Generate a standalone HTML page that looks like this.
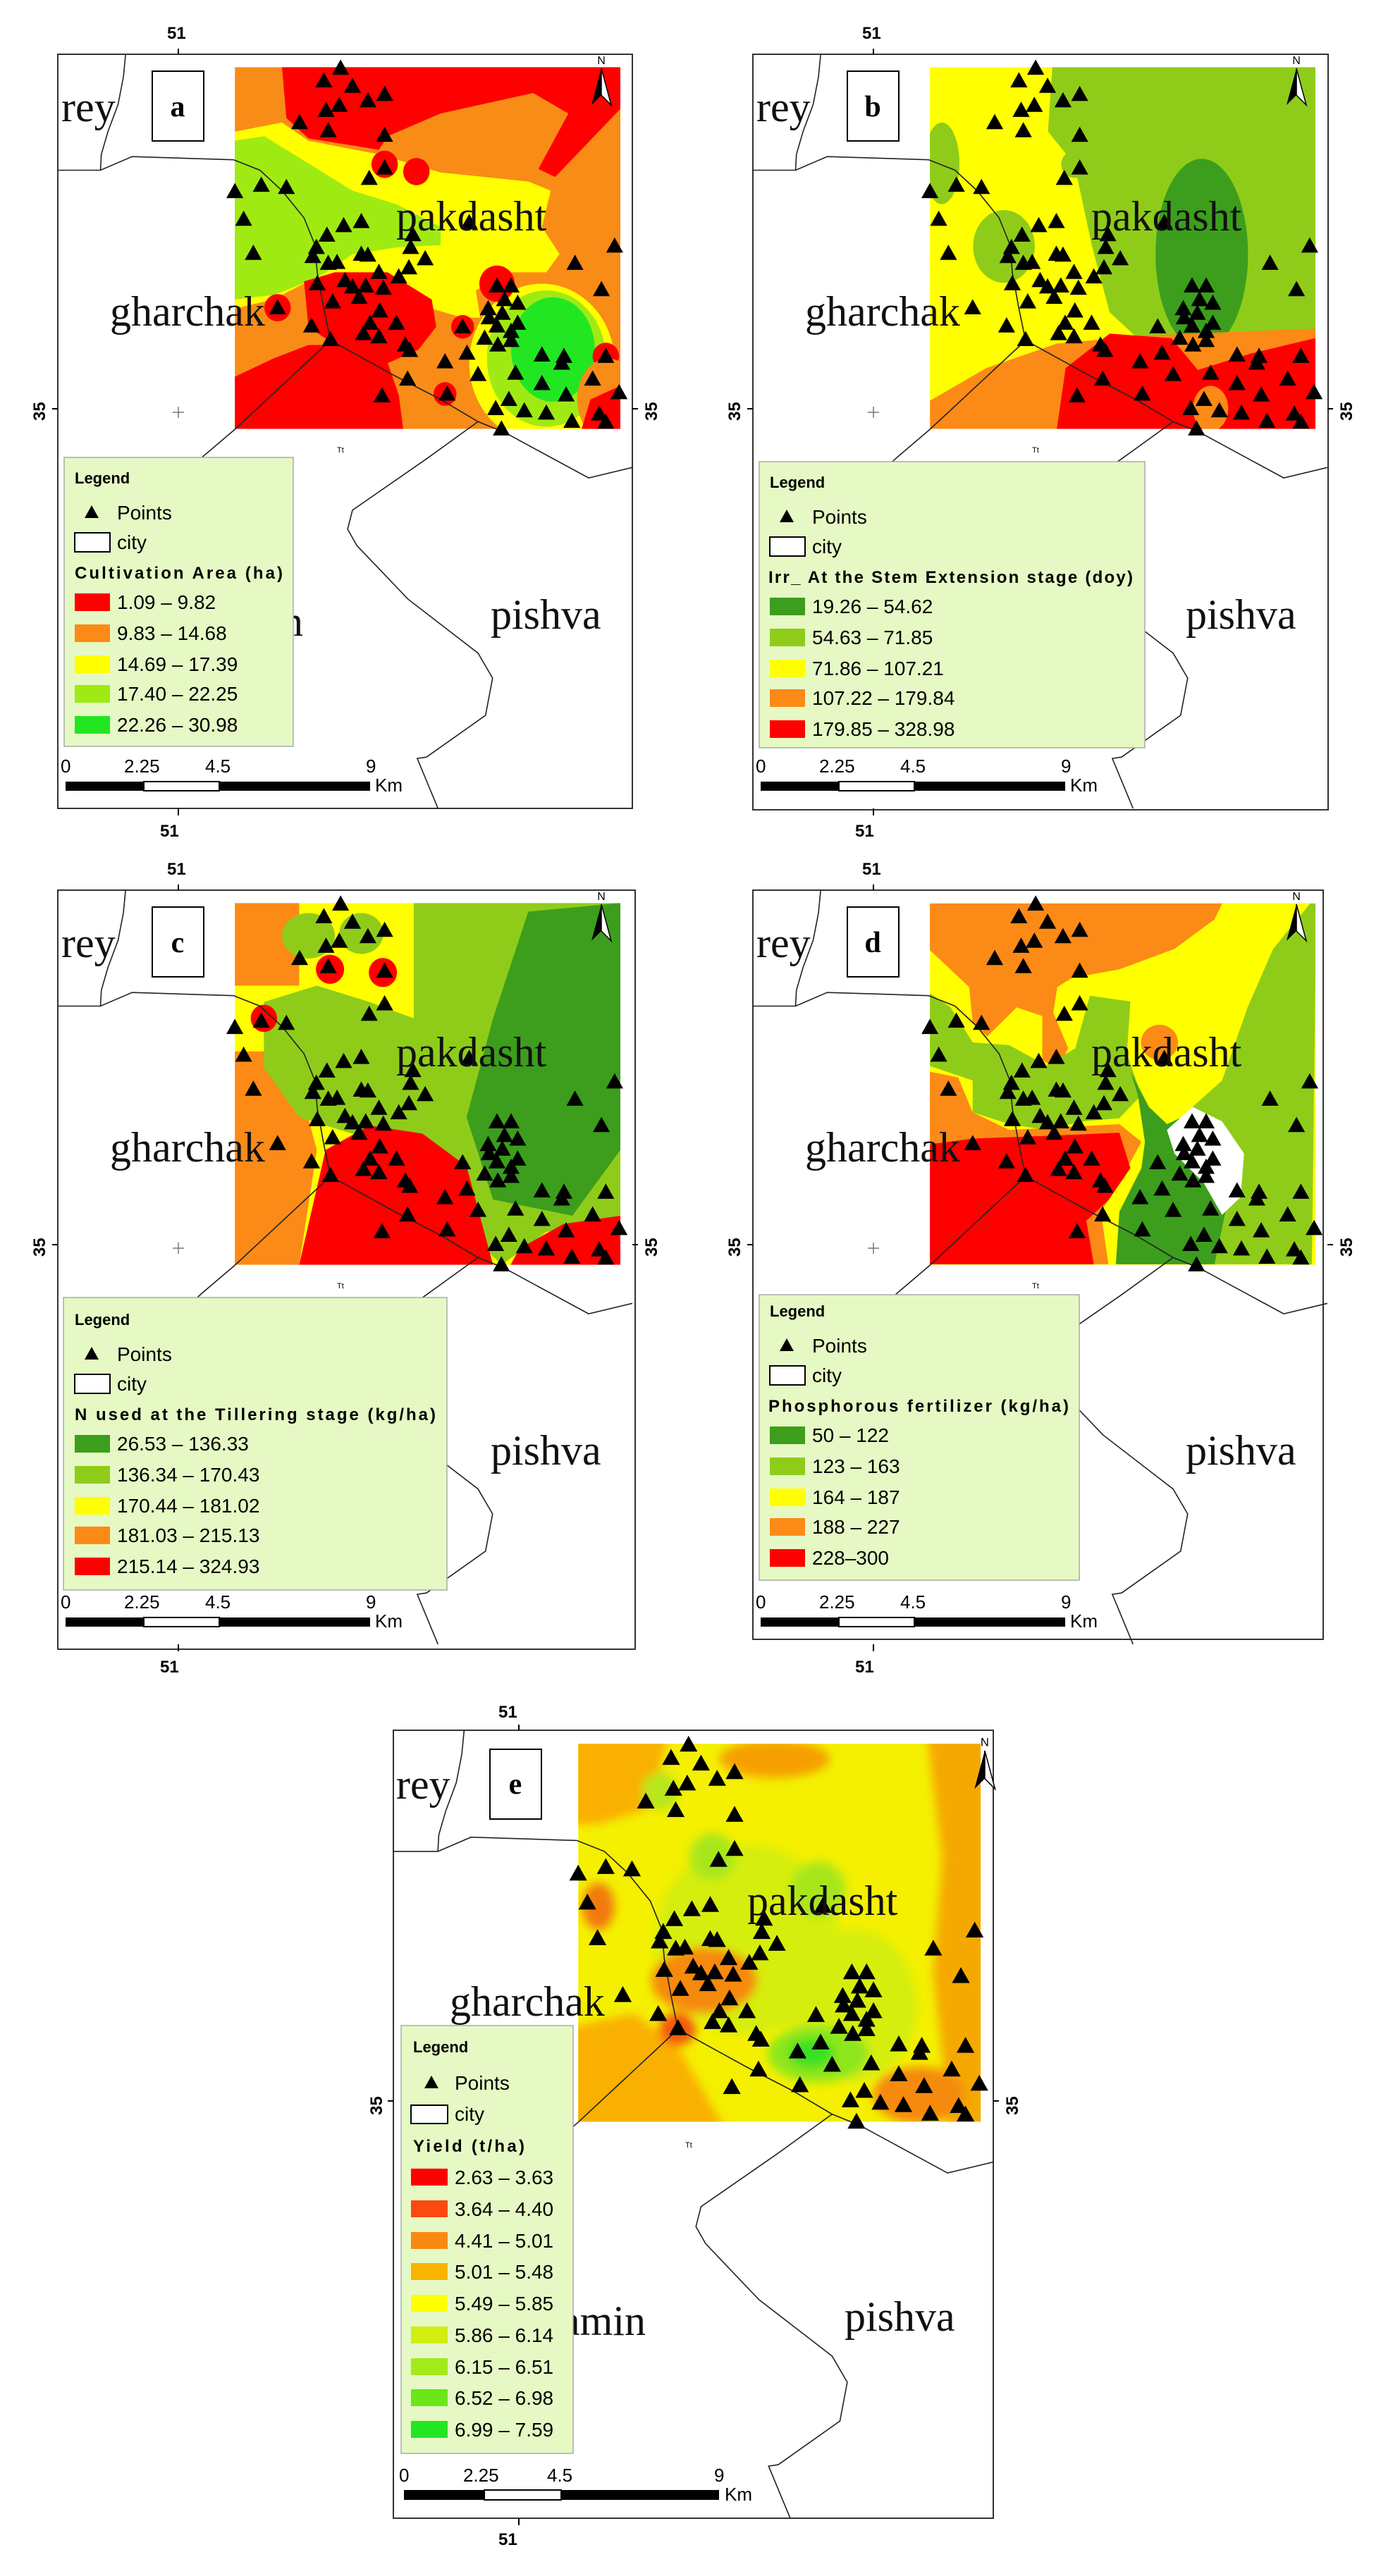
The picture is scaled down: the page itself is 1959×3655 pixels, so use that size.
<!DOCTYPE html>
<html><head><meta charset="utf-8"><style>
html,body{margin:0;padding:0;background:#fff}
svg{display:block}
.cn{font-family:"Liberation Serif",serif;font-size:60px;fill:#111}
.lb{font-family:"Liberation Serif",serif;font-size:42px;font-weight:bold}
.ax{font-family:"Liberation Sans",sans-serif;font-size:24px;font-weight:bold}
.lg{font-family:"Liberation Sans",sans-serif;font-size:22px;font-weight:bold}
.lt{font-family:"Liberation Sans",sans-serif;font-size:24px;font-weight:bold}
.li{font-family:"Liberation Sans",sans-serif;font-size:28px}
.sc{font-family:"Liberation Sans",sans-serif;font-size:26px}
</style></head><body>
<svg xmlns="http://www.w3.org/2000/svg" xmlns:xlink="http://www.w3.org/1999/xlink" width="1959" height="3655" viewBox="0 0 1959 3655">
<defs>
<clipPath id="rc"><rect x="533" y="148" width="875" height="797"/></clipPath>
<filter id="bl" x="-5%" y="-5%" width="110%" height="110%"><feGaussianBlur stdDeviation="10"/></filter>
<path id="pts" fill="#000" stroke="#000" stroke-width="5" stroke-linejoin="miter" d="M773 136l15 26h-30zM735 164l15 26h-30zM800 176l15 26h-30zM873 194l15 26h-30zM835 208l15 26h-30zM770 218l15 26h-30zM740 229l15 26h-30zM680 256l15 26h-30zM745 274l15 26h-30zM873 284l15 26h-30zM873 356l15 26h-30zM838 379l15 26h-30zM533 408l15 26h-30zM593 394l15 26h-30zM650 399l15 26h-30zM553 469l15 26h-30zM820 474l15 26h-30zM780 483l15 26h-30zM742 504l15 26h-30zM718 531l15 26h-30zM710 551l15 26h-30zM575 544l15 26h-30zM937 503l15 26h-30zM932 531l15 26h-30zM965 556l15 26h-30zM820 546l15 26h-30zM835 548l15 26h-30zM745 566l15 26h-30zM765 564l15 26h-30zM720 611l15 26h-30zM783 604l15 26h-30zM800 618l15 26h-30zM830 616l15 26h-30zM860 586l15 26h-30zM870 621l15 26h-30zM905 596l15 26h-30zM928 576l15 26h-30zM630 664l15 26h-30zM755 651l15 26h-30zM815 641l15 26h-30zM862 671l15 26h-30zM840 698l15 26h-30zM900 698l15 26h-30zM825 721l15 26h-30zM860 728l15 26h-30zM707 704l15 26h-30zM750 734l15 26h-30zM920 746l15 26h-30zM930 758l15 26h-30zM1010 783l15 26h-30zM1060 764l15 26h-30zM1085 811l15 26h-30zM925 821l15 26h-30zM867 858l15 26h-30zM1015 854l15 26h-30zM1128 616l15 26h-30zM1160 616l15 26h-30zM1145 646l15 26h-30zM1175 654l15 26h-30zM1108 666l15 26h-30zM1140 676l15 26h-30zM1110 686l15 26h-30zM1175 698l15 26h-30zM1128 704l15 26h-30zM1160 716l15 26h-30zM1100 731l15 26h-30zM1130 746l15 26h-30zM1160 736l15 26h-30zM1050 706l15 26h-30zM1230 768l15 26h-30zM1280 771l15 26h-30zM1275 786l15 26h-30zM1170 808l15 26h-30zM1230 831l15 26h-30zM1345 821l15 26h-30zM1375 771l15 26h-30zM1285 856l15 26h-30zM1155 866l15 26h-30zM1125 886l15 26h-30zM1190 891l15 26h-30zM1240 896l15 26h-30zM1298 914l15 26h-30zM1360 898l15 26h-30zM1375 916l15 26h-30zM1405 851l15 26h-30zM1138 931l15 26h-30zM1305 566l15 26h-30zM1365 624l15 26h-30zM1395 528l15 26h-30zM1065 476l15 26h-30z"/>
<g id="bnd" fill="none" stroke="#222" stroke-width="1.6">
<path vector-effect="non-scaling-stroke" d="M285 120L280 170L268 230L245 290L230 340L228 375"/>
<path vector-effect="non-scaling-stroke" d="M131 375L228 375L300 345L530 352L590 375L640 420L690 480L715 540L720 600L735 680L750 750L900 830L1000 880L1085 929L1144 952L1336 1053L1435 1030"/>
<path vector-effect="non-scaling-stroke" d="M750 750L533 946L458 1008L400 1060"/>
<path vector-effect="non-scaling-stroke" d="M1085 929L968 1011L800 1124L789 1166L810 1202L926 1320L1085 1439L1118 1494L1102 1576L968 1668L947 1671L994 1781"/>
</g>
<g id="rA" clip-path="url(#rc)">
<rect x="533" y="148" width="875" height="797" fill="#f98c17"/>
<polygon fill="#ff0000" points="640,148 1408,148 1408,240 1260,390 1222,372 1290,250 1210,205 1000,250 880,300 860,330 700,305 650,260"/>
<polygon fill="#ffff00" points="533,290 640,270 700,310 860,340 1000,380 1200,400 1250,420 1230,500 1270,560 1240,600 1150,600 1080,640 1090,700 1050,700 980,680 880,600 760,600 700,620 620,660 533,680"/>
<polygon fill="#a0ea14" points="533,310 600,300 700,360 800,420 900,450 1000,500 1000,540 900,545 800,560 740,600 700,620 620,650 533,660"/>
<polygon fill="#ff0000" points="690,620 760,600 880,600 980,660 990,720 950,770 880,800 760,760 700,720"/>
<polygon fill="#ff0000" points="533,830 620,790 700,760 780,760 880,800 905,870 915,945 533,945"/>
<ellipse cx="1230" cy="800" rx="165" ry="175" fill="#ffff00"/>
<ellipse cx="1240" cy="790" rx="135" ry="150" fill="#a0ea14"/>
<ellipse cx="1255" cy="770" rx="95" ry="115" fill="#22e622"/>
<circle cx="630" cy="678" r="30" fill="#ff0000"/><circle cx="873" cy="362" r="30" fill="#ff0000"/><circle cx="945" cy="378" r="30" fill="#ff0000"/><circle cx="1128" cy="625" r="40" fill="#ff0000"/><circle cx="1050" cy="720" r="26" fill="#ff0000"/><circle cx="1010" cy="868" r="26" fill="#ff0000"/><circle cx="1375" cy="785" r="30" fill="#ff0000"/>
<ellipse cx="1380" cy="880" rx="70" ry="90" fill="#f98c17"/>
<polygon fill="#ff0000" points="1340,880 1408,850 1408,945 1320,945"/>
</g>
<g id="rB" clip-path="url(#rc)">
<rect x="533" y="148" width="875" height="797" fill="#ffff00"/>
<polygon fill="#8fcc1a" points="811,148 1408,148 1408,724 1021,760 941,688 901,543 861,362 801,290"/>
<ellipse cx="1150" cy="560" rx="105" ry="210" fill="#3c9e1c"/>
<polygon fill="#fc8a17" points="533,945 533,883 661,811 821,757 1021,739 1408,724 1408,945"/>
<polygon fill="#ff0000" points="821,945 841,811 941,735 1081,745 1141,815 1261,779 1408,745 1408,945"/>
<ellipse cx="1170" cy="900" rx="40" ry="50" fill="#fc8a17"/>
<ellipse cx="560" cy="360" rx="40" ry="90" fill="#8fcc1a"/><ellipse cx="701" cy="543" rx="70" ry="80" fill="#8fcc1a"/><circle cx="861" cy="362" r="30" fill="#8fcc1a"/><circle cx="931" cy="362" r="30" fill="#8fcc1a"/>
</g>
<g id="rC" clip-path="url(#rc)">
<rect x="533" y="148" width="875" height="797" fill="#ffff00"/>
<rect x="533" y="148" width="146" height="182" fill="#fc8a17"/>
<polygon fill="#fc8a17" points="533,475 659,475 719,692 679,945 533,945"/>
<polygon fill="#8fcc1a" points="939,148 1408,148 1408,837 1239,873 1139,945 1039,855 959,656 939,402"/>
<polygon fill="#3c9e1c" points="1199,167 1408,148 1408,692 1299,837 1119,801 1059,620 1119,402"/>
<polygon fill="#8fcc1a" points="599,366 719,330 839,366 939,402 999,620 939,692 799,656 679,620 599,511"/>
<polygon fill="#ff0000" points="679,945 739,692 839,638 959,656 1059,728 1119,945"/>
<polygon fill="#ff0000" points="1179,909 1279,855 1408,837 1408,945 1159,945"/>
<ellipse cx="700" cy="220" rx="60" ry="50" fill="#8fcc1a"/><ellipse cx="820" cy="215" rx="50" ry="45" fill="#8fcc1a"/>
<circle cx="749" cy="294" r="32" fill="#ff0000"/><circle cx="869" cy="301" r="32" fill="#ff0000"/><circle cx="599" cy="402" r="30" fill="#ff0000"/>
</g>
<g id="rD" clip-path="url(#rc)">
<rect x="533" y="148" width="875" height="797" fill="#ffff00"/>
<polygon fill="#fc8a17" points="530,149 1196,149 1179,184 1088,249 963,294 855,313 822,333 813,390 847,468 822,513 788,494 788,397 730,378 663,442 630,410 622,333 530,249"/>
<polygon fill="#8fcc1a" points="1396,149 1410,149 1400,944 1179,944 1204,828 1171,732 1129,597 1196,539 1254,378 1312,249"/>
<polygon fill="#8fcc1a" points="530,345 580,378 630,455 713,461 797,506 863,468 896,352 988,365 980,481 1013,571 963,622 880,629 797,648 713,635 630,609 630,539 530,506"/>
<polygon fill="#fc8a17" points="530,519 597,532 630,609 713,648 963,635 1013,674 963,764 921,828 938,944 530,944"/>
<polygon fill="#ff0000" points="530,680 630,667 797,661 963,654 988,732 938,803 888,848 905,944 530,944"/>
<polygon fill="#3c9e1c" points="988,519 1030,597 1071,635 1129,609 1179,732 1204,828 1179,944 955,944 963,828 1013,732 1021,674 1005,571"/>
<polygon fill="#ffffff" points="1071,648 1129,597 1196,629 1246,700 1238,796 1196,835 1154,764 1088,700"/>
<ellipse cx="1054" cy="455" rx="42" ry="39" fill="#fc8a17"/>
</g>
<g id="rE" clip-path="url(#rc)">
<rect x="533" y="148" width="875" height="797" fill="#f4f000"/>
<g filter="url(#bl)">
<ellipse cx="900" cy="560" rx="200" ry="200" fill="#d6ee10"/>
<ellipse cx="1130" cy="700" rx="140" ry="160" fill="#d6ee10"/>
<polygon fill="#f9b000" points="500,120 730,120 692,283 577,318 500,318"/>
<polygon fill="#f5a800" points="1290,120 1440,120 1440,980 1343,980 1305,630 1324,387"/>
<polygon fill="#f9b000" points="500,750 653,716 749,785 864,980 500,980"/>
<ellipse cx="807" cy="647" rx="115" ry="70" fill="#f58a10"/>
<ellipse cx="749" cy="750" rx="40" ry="35" fill="#f25a10"/>
<ellipse cx="577" cy="491" rx="35" ry="50" fill="#f27a10"/>
<ellipse cx="1274" cy="889" rx="100" ry="60" fill="#f58a10"/>
<ellipse cx="960" cy="180" rx="120" ry="40" fill="#f5a000"/>
<ellipse cx="1055" cy="802" rx="110" ry="60" fill="#8ee61a"/>
<ellipse cx="1040" cy="800" rx="50" ry="32" fill="#3ae020"/>
<ellipse cx="825" cy="387" rx="50" ry="50" fill="#a8e61a"/>
<ellipse cx="1055" cy="456" rx="60" ry="60" fill="#a8e61a"/>
<ellipse cx="711" cy="248" rx="40" ry="40" fill="#b8e61a"/>
</g>
</g>
<g id="narrow"><text x="771" y="14" font-family="Liberation Sans,sans-serif" font-size="16" text-anchor="middle">N</text><polygon points="771,20 757,72 771,58" fill="#000"/><polygon points="771,20 785,72 771,58" fill="#fff" stroke="#000" stroke-width="1.5"/></g>
<g id="axes">
<text class="ax" x="155" y="-22">51</text><line x1="171" y1="-8" x2="171" y2="0" stroke="#000" stroke-width="2"/>
<text class="ax" x="145" y="1110">51</text><line x1="171" y1="1070" x2="171" y2="1080" stroke="#000" stroke-width="2"/>
<line x1="-8" y1="503" x2="0" y2="503" stroke="#000" stroke-width="2"/><line x1="815" y1="503" x2="823" y2="503" stroke="#000" stroke-width="2"/>
<text class="ax" transform="translate(-18,520) rotate(-90)">35</text>
<text class="ax" transform="translate(850,520) rotate(-90)">35</text>
<text x="396" y="565" font-family="Liberation Sans,sans-serif" font-size="11">Tt</text>
<line x1="171" y1="500" x2="171" y2="516" stroke="#777" stroke-width="1.5"/><line x1="163" y1="508" x2="179" y2="508" stroke="#777" stroke-width="1.5"/>
</g>
<g id="scale">
<rect x="11" y="1032" width="111" height="13" fill="#000"/><rect x="122" y="1032" width="107" height="13" fill="#fff" stroke="#000" stroke-width="2"/><rect x="229" y="1032" width="214" height="13" fill="#000"/>
<text class="sc" x="4" y="1019">0</text><text class="sc" x="94" y="1019">2.25</text><text class="sc" x="209" y="1019">4.5</text><text class="sc" x="437" y="1019">9</text><text class="sc" x="450" y="1046">Km</text>
</g>
<g id="lghead">
<text class="lg" x="24" y="609">Legend</text>
<polygon points="48,640 58,658 38,658" fill="#000"/><text class="li" x="84" y="660" font-size="26">Points</text>
<rect x="24" y="679" width="50" height="27" fill="#fff" stroke="#000" stroke-width="2"/><text class="li" x="84" y="702" font-size="26">city</text>
</g>
</defs>

<!-- Panel a -->
<g transform="translate(82,77)">
<rect x="0" y="0" width="815" height="1070" fill="#fff" stroke="#333" stroke-width="2"/>
<g transform="translate(-82,-77) scale(0.625,0.644)"><use xlink:href="#rA"/><use xlink:href="#bnd"/><use xlink:href="#pts"/></g>
<use xlink:href="#axes"/>
<text class="cn" x="5" y="95">rey</text>
<text class="cn" x="74" y="385">gharchak</text>
<text class="cn" x="480" y="250">pakdasht</text>
<text class="cn" x="614" y="815">pishva</text>
<text class="cn" x="348" y="825" text-anchor="end">amin</text>
<rect x="134" y="24" width="73" height="99" fill="#fff" stroke="#000" stroke-width="2"/><text class="lb" x="170" y="88" text-anchor="middle">a</text>
<use xlink:href="#narrow"/>
<rect x="9" y="572" width="325" height="410" fill="#e6f9c4" stroke="#aaa" stroke-width="1.5"/>
<use xlink:href="#lghead"/>
<text class="lt" x="24" y="744" textLength="295">Cultivation Area (ha)</text>
<rect x="24" y="765" width="50" height="25" fill="#ff0000"/><text class="li" x="84" y="787">1.09 – 9.82</text>
<rect x="24" y="809" width="50" height="25" fill="#fc8a17"/><text class="li" x="84" y="831">9.83 – 14.68</text>
<rect x="24" y="853" width="50" height="25" fill="#ffff00"/><text class="li" x="84" y="875">14.69 – 17.39</text>
<rect x="24" y="895" width="50" height="25" fill="#a0ea14"/><text class="li" x="84" y="917">17.40 – 22.25</text>
<rect x="24" y="939" width="50" height="25" fill="#22e622"/><text class="li" x="84" y="961">22.26 – 30.98</text>
<use xlink:href="#scale"/>
</g>

<!-- Panel b -->
<g transform="translate(1068,77)">
<rect x="0" y="0" width="816" height="1072" fill="#fff" stroke="#333" stroke-width="2"/>
<g transform="translate(-82,-77) scale(0.625,0.644)"><use xlink:href="#rB"/><use xlink:href="#bnd"/><use xlink:href="#pts"/></g>
<use xlink:href="#axes"/>
<text class="cn" x="5" y="95">rey</text>
<text class="cn" x="74" y="385">gharchak</text>
<text class="cn" x="480" y="250">pakdasht</text>
<text class="cn" x="614" y="815">pishva</text>
<rect x="134" y="24" width="73" height="99" fill="#fff" stroke="#000" stroke-width="2"/><text class="lb" x="170" y="88" text-anchor="middle">b</text>
<use xlink:href="#narrow"/>
<rect x="9" y="578" width="547" height="406" fill="#e6f9c4" stroke="#aaa" stroke-width="1.5"/>
<g transform="translate(0,6)">
<use xlink:href="#lghead"/>
<text class="lt" x="22" y="744" textLength="517">Irr_ At the Stem Extension stage (doy)</text>
<rect x="24" y="765" width="50" height="25" fill="#3c9e1c"/><text class="li" x="84" y="787">19.26 – 54.62</text>
<rect x="24" y="809" width="50" height="25" fill="#8fcc1a"/><text class="li" x="84" y="831">54.63 – 71.85</text>
<rect x="24" y="853" width="50" height="25" fill="#ffff00"/><text class="li" x="84" y="875">71.86 – 107.21</text>
<rect x="24" y="895" width="50" height="25" fill="#fc8a17"/><text class="li" x="84" y="917">107.22 – 179.84</text>
<rect x="24" y="939" width="50" height="25" fill="#ff0000"/><text class="li" x="84" y="961">179.85 – 328.98</text>
</g>
<use xlink:href="#scale"/>
</g>

<!-- Panel c -->
<g transform="translate(82,1263)">
<rect x="0" y="0" width="819" height="1077" fill="#fff" stroke="#333" stroke-width="2"/>
<g transform="translate(-82,-77) scale(0.625,0.644)"><use xlink:href="#rC"/><use xlink:href="#bnd"/><use xlink:href="#pts"/></g>
<use xlink:href="#axes"/>
<text class="cn" x="5" y="95">rey</text>
<text class="cn" x="74" y="385">gharchak</text>
<text class="cn" x="480" y="250">pakdasht</text>
<text class="cn" x="614" y="815">pishva</text>
<rect x="134" y="24" width="73" height="99" fill="#fff" stroke="#000" stroke-width="2"/><text class="lb" x="170" y="88" text-anchor="middle">c</text>
<use xlink:href="#narrow"/>
<rect x="8" y="578" width="544" height="415" fill="#e6f9c4" stroke="#aaa" stroke-width="1.5"/>
<g transform="translate(0,8)">
<use xlink:href="#lghead"/>
<text class="lt" x="24" y="744" textLength="512">N used at the Tillering stage (kg/ha)</text>
<rect x="24" y="765" width="50" height="25" fill="#3c9e1c"/><text class="li" x="84" y="787">26.53 – 136.33</text>
<rect x="24" y="809" width="50" height="25" fill="#8fcc1a"/><text class="li" x="84" y="831">136.34 – 170.43</text>
<rect x="24" y="853" width="50" height="25" fill="#ffff00"/><text class="li" x="84" y="875">170.44 – 181.02</text>
<rect x="24" y="895" width="50" height="25" fill="#fc8a17"/><text class="li" x="84" y="917">181.03 – 215.13</text>
<rect x="24" y="939" width="50" height="25" fill="#ff0000"/><text class="li" x="84" y="961">215.14 – 324.93</text>
</g>
<use xlink:href="#scale"/>
</g>

<!-- Panel d -->
<g transform="translate(1068,1263)">
<rect x="0" y="0" width="809" height="1063" fill="#fff" stroke="#333" stroke-width="2"/>
<g transform="translate(-82,-77) scale(0.625,0.644)"><use xlink:href="#rD"/><use xlink:href="#bnd"/><use xlink:href="#pts"/></g>
<use xlink:href="#axes"/>
<text class="cn" x="5" y="95">rey</text>
<text class="cn" x="74" y="385">gharchak</text>
<text class="cn" x="480" y="250">pakdasht</text>
<text class="cn" x="614" y="815">pishva</text>
<rect x="134" y="24" width="73" height="99" fill="#fff" stroke="#000" stroke-width="2"/><text class="lb" x="170" y="88" text-anchor="middle">d</text>
<use xlink:href="#narrow"/>
<rect x="9" y="574" width="454" height="405" fill="#e6f9c4" stroke="#aaa" stroke-width="1.5"/>
<g transform="translate(0,-4)">
<use xlink:href="#lghead"/>
<text class="lt" x="22" y="744" textLength="426">Phosphorous fertilizer (kg/ha)</text>
<rect x="24" y="765" width="50" height="25" fill="#3c9e1c"/><text class="li" x="84" y="787">50 – 122</text>
<rect x="24" y="809" width="50" height="25" fill="#8fcc1a"/><text class="li" x="84" y="831">123 – 163</text>
<rect x="24" y="853" width="50" height="25" fill="#ffff00"/><text class="li" x="84" y="875">164 – 187</text>
<rect x="24" y="895" width="50" height="25" fill="#fc8a17"/><text class="li" x="84" y="917">188 – 227</text>
<rect x="24" y="939" width="50" height="25" fill="#ff0000"/><text class="li" x="84" y="961">228–300</text>
</g>
<use xlink:href="#scale"/>
</g>

<!-- Panel e -->
<g transform="translate(558,2455)">
<rect x="0" y="0" width="851" height="1118" fill="#fff" stroke="#333" stroke-width="2"/>
<g transform="scale(1.044,1.045)"><g transform="translate(-82,-77) scale(0.625,0.644)"><use xlink:href="#rE"/><use xlink:href="#bnd"/><use xlink:href="#pts"/></g></g>
<text class="ax" x="149" y="-18">51</text><line x1="178" y1="-8" x2="178" y2="0" stroke="#000" stroke-width="2"/>
<text class="ax" x="149" y="1156">51</text><line x1="178" y1="1118" x2="178" y2="1128" stroke="#000" stroke-width="2"/>
<line x1="-8" y1="526" x2="0" y2="526" stroke="#000" stroke-width="2"/><line x1="851" y1="526" x2="859" y2="526" stroke="#000" stroke-width="2"/>
<text class="ax" transform="translate(-16,546) rotate(-90)">35</text>
<text class="ax" transform="translate(886,546) rotate(-90)">35</text>
<text x="414" y="592" font-family="Liberation Sans,sans-serif" font-size="11">Tt</text>
<text class="cn" x="4" y="97">rey</text>
<text class="cn" x="80" y="405">gharchak</text>
<text class="cn" x="502" y="262">pakdasht</text>
<text class="cn" x="640" y="852">pishva</text>
<text class="cn" x="358" y="858" text-anchor="end">amin</text>
<rect x="137" y="27" width="73" height="99" fill="#fff" stroke="#000" stroke-width="2"/><text class="lb" x="173" y="90" text-anchor="middle">e</text>
<g transform="translate(34,8) scale(1.044,1.045)"><use xlink:href="#narrow"/></g>
<rect x="11" y="419" width="244" height="607" fill="#e6f9c4" stroke="#aaa" stroke-width="1.5"/>
<text class="lg" x="28" y="457">Legend</text>
<polygon points="54,490 64,508 44,508" fill="#000"/><text class="li" x="87" y="510" font-size="26">Points</text>
<rect x="25" y="532" width="52" height="26" fill="#fff" stroke="#000" stroke-width="2"/><text class="li" x="87" y="554" font-size="26">city</text>
<text class="lt" x="28" y="598" textLength="158">Yield (t/ha)</text>
<rect x="25" y="622" width="52" height="24" fill="#ff0000"/><text class="li" x="87" y="644">2.63 – 3.63</text>
<rect x="25" y="667" width="52" height="24" fill="#fa4a10"/><text class="li" x="87" y="689">3.64 – 4.40</text>
<rect x="25" y="712" width="52" height="24" fill="#f88a14"/><text class="li" x="87" y="734">4.41 – 5.01</text>
<rect x="25" y="756" width="52" height="24" fill="#f8b400"/><text class="li" x="87" y="778">5.01 – 5.48</text>
<rect x="25" y="801" width="52" height="24" fill="#ffff00"/><text class="li" x="87" y="823">5.49 – 5.85</text>
<rect x="25" y="846" width="52" height="24" fill="#d0ee10"/><text class="li" x="87" y="868">5.86 – 6.14</text>
<rect x="25" y="891" width="52" height="24" fill="#a2ea1a"/><text class="li" x="87" y="913">6.15 – 6.51</text>
<rect x="25" y="935" width="52" height="24" fill="#6ae61a"/><text class="li" x="87" y="957">6.52 – 6.98</text>
<rect x="25" y="980" width="52" height="24" fill="#22e622"/><text class="li" x="87" y="1002">6.99 – 7.59</text>
<rect x="15" y="1078" width="114" height="14" fill="#000"/><rect x="129" y="1078" width="109" height="14" fill="#fff" stroke="#000" stroke-width="2"/><rect x="238" y="1078" width="224" height="14" fill="#000"/>
<text class="sc" x="8" y="1066">0</text><text class="sc" x="99" y="1066">2.25</text><text class="sc" x="218" y="1066">4.5</text><text class="sc" x="455" y="1066">9</text><text class="sc" x="470" y="1093">Km</text>
</g>
</svg>
</body></html>
